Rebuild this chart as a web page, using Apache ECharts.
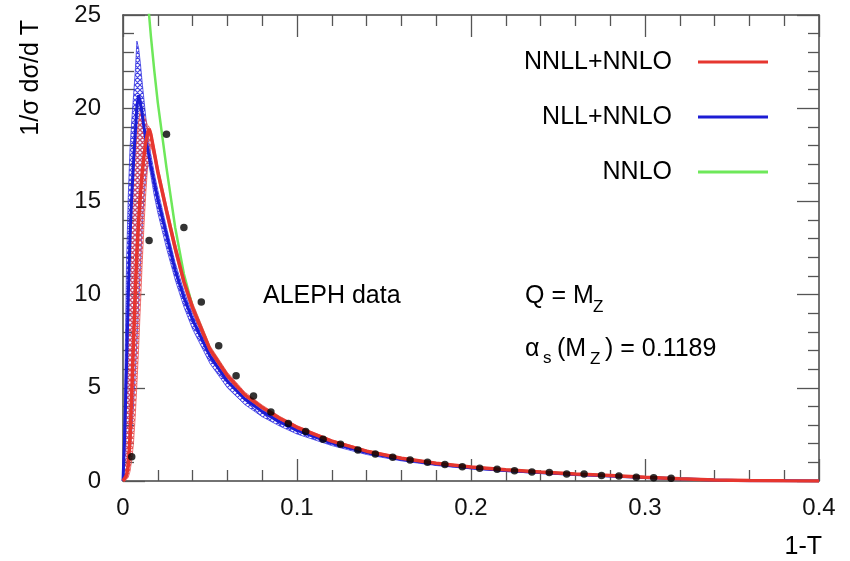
<!DOCTYPE html>
<html><head><meta charset="utf-8">
<script src="https://cdn.jsdelivr.net/npm/echarts@6/dist/echarts.min.js"></script>
<style>html,body{margin:0;padding:0;background:#fff}#c{width:850px;height:561px}</style>
</head><body><div id="c"></div>
<script>
// x grid (1-T) shared by the theory curves
const xGrid = [0, 0.001, 0.002, 0.003, 0.004, 0.005, 0.006, 0.007, 0.008, 0.009, 0.010, 0.011, 0.012, 0.013, 0.014, 0.015, 0.016, 0.018, 0.020, 0.025, 0.030, 0.035, 0.040, 0.050, 0.060, 0.070, 0.080, 0.090, 0.100, 0.120, 0.140, 0.160, 0.180, 0.200, 0.220, 0.240, 0.260, 0.280, 0.300, 0.320, 0.340, 0.360, 0.380, 0.400];

// NNLL+NNLO central, upper, lower
const nnllCentral = [0, 0.1, 0.3, 0.8, 2.3, 4.6, 7.4, 10.0, 12.3, 14.0, 15.4, 16.5, 17.4, 18.1, 18.6, 18.9, 18.6, 17.6, 16.6, 14.5, 12.5, 10.7, 9.3, 7.05, 5.65, 4.62, 3.95, 3.37, 2.88, 2.14, 1.60, 1.22, 0.95, 0.75, 0.60, 0.48, 0.38, 0.29, 0.20, 0.12, 0.06, 0.03, 0.01, 0];
const nnllUpper = [0, 1.5, 4.5, 9.0, 12.8, 15.0, 16.5, 17.6, 18.5, 19.3, 19.9, 19.8, 19.6, 19.4, 19.1, 19.0, 18.8, 17.9, 16.9, 14.8, 12.8, 10.95, 9.55, 7.25, 5.82, 4.77, 4.07, 3.47, 2.97, 2.21, 1.66, 1.27, 0.99, 0.79, 0.63, 0.51, 0.40, 0.31, 0.22, 0.14, 0.08, 0.04, 0.02, 0.01];
const nnllLower = [0, 0, 0.1, 0.2, 0.5, 1.1, 2.0, 3.4, 5.2, 7.2, 9.4, 11.6, 13.6, 15.3, 16.7, 17.6, 18.0, 17.3, 16.3, 14.2, 12.2, 10.45, 9.05, 6.85, 5.48, 4.47, 3.83, 3.27, 2.79, 2.07, 1.54, 1.17, 0.91, 0.71, 0.57, 0.45, 0.36, 0.27, 0.18, 0.10, 0.04, 0.02, 0, 0];

// NLL+NNLO central, upper, lower
const nllCentral = [0, 2.5, 6.0, 9.8, 13.0, 15.2, 17.0, 18.6, 20.1, 20.7, 20.3, 19.7, 19.0, 18.4, 17.9, 17.4, 16.9, 16.0, 15.1, 13.2, 11.3, 9.85, 8.65, 6.7, 5.35, 4.4, 3.72, 3.17, 2.72, 2.04, 1.53, 1.17, 0.91, 0.71, 0.56, 0.45, 0.35, 0.27, 0.19, 0.12, 0.06, 0.02, 0.01, 0];
const nllUpper = [0, 5.0, 11.5, 15.2, 17.8, 19.3, 20.6, 21.9, 23.6, 23.2, 22.4, 21.4, 20.5, 19.6, 18.8, 18.1, 17.5, 16.5, 15.6, 13.6, 11.7, 10.2, 8.95, 6.95, 5.55, 4.57, 3.86, 3.28, 2.82, 2.11, 1.59, 1.21, 0.94, 0.74, 0.58, 0.47, 0.37, 0.28, 0.20, 0.13, 0.07, 0.03, 0.01, 0];
const nllLower = [0, 0.1, 0.3, 0.8, 1.5, 2.6, 4.0, 5.7, 7.5, 9.5, 11.5, 13.5, 15.2, 16.3, 16.9, 16.9, 16.4, 15.3, 14.4, 12.5, 10.8, 9.35, 8.15, 6.3, 5.0, 4.1, 3.45, 2.95, 2.52, 1.9, 1.42, 1.08, 0.83, 0.65, 0.51, 0.40, 0.31, 0.23, 0.15, 0.09, 0.04, 0.01, 0, 0];

// NNLO fixed order (null where it is far above the frame)
const nnlo = [null, null, null, null, null, null, null, null, null, null, null, null, null, 28.5, 26.6, 25.0, 23.9, 22.0, 20.3, 16.8, 13.6, 11.1, 9.35, 7.08, 5.66, 4.62, 3.95, 3.37, 2.88, 2.14, 1.60, 1.22, 0.95, 0.75, 0.60, 0.48, 0.38, 0.29, 0.20, 0.12, 0.06, 0.03, 0.01, 0];

// ALEPH data
const alephX = [0.005, 0.015, 0.025, 0.035, 0.045, 0.055, 0.065, 0.075, 0.085, 0.095, 0.105, 0.115, 0.125, 0.135, 0.145, 0.155, 0.165, 0.175, 0.185, 0.195, 0.205, 0.215, 0.225, 0.235, 0.245, 0.255, 0.265, 0.275, 0.285, 0.295, 0.305, 0.315];
const alephY = [1.3, 12.9, 18.6, 13.6, 9.6, 7.26, 5.65, 4.56, 3.70, 3.09, 2.65, 2.24, 1.97, 1.66, 1.45, 1.27, 1.13, 1.00, 0.89, 0.77, 0.68, 0.63, 0.55, 0.48, 0.45, 0.38, 0.38, 0.29, 0.27, 0.20, 0.18, 0.15];

const legendNames = ['NNLL+NNLO', 'NLL+NNLO', 'NNLO'];
const xTicks = {min: 0, max: 0.4, interval: 0.1};
const yTicks = {min: 0, max: 25, interval: 5};

const RED = '#e6362f', BLUE = '#1c1cd4', GREEN = '#6ee85a';
const FONT = 'Liberation Sans';

function zip(xs, ys) {
  const out = [];
  for (let i = 0; i < xs.length; i++) if (ys[i] != null) out.push([xs[i], ys[i]]);
  return out;
}
function hatch(color) {
  const s = 5;
  const c = document.createElement('canvas');
  c.width = s; c.height = s;
  const ctx = c.getContext('2d');
  ctx.strokeStyle = color; ctx.lineWidth = 1.1;
  ctx.beginPath();
  for (let k = -1; k <= 1; k++) {
    ctx.moveTo(k * s - 1, -1); ctx.lineTo(k * s + s + 1, s + 1);
    ctx.moveTo(k * s + s + 1, -1); ctx.lineTo(k * s - 1, s + 1);
  }
  ctx.stroke();
  return c;
}
function band(name, upper, lower, color, z) {
  const pat = hatch(color);
  return {
    type: 'custom', name: name, silent: true, z: z,
    data: [[xGrid[0], upper[0]]],
    encode: {x: 0, y: 1},
    renderItem: function (params, api) {
      const pts = [];
      for (let i = 0; i < xGrid.length; i++) pts.push(api.coord([xGrid[i], upper[i]]));
      for (let i = xGrid.length - 1; i >= 0; i--) pts.push(api.coord([xGrid[i], lower[i]]));
      return {type: 'polygon', shape: {points: pts},
        style: {fill: {image: pat, repeat: 'repeat'}, stroke: color, lineWidth: 0.8, opacity: 0.9}};
    }
  };
}

const axisLineStyle = {color: '#444', width: 1.5};
const tickStyle = {color: '#555', width: 1.3};
function xAxisDef(pos, labels) {
  return Object.assign({
    type: 'value', position: pos, gridIndex: 0,
    axisLine: {show: true, onZero: false, lineStyle: axisLineStyle},
    axisTick: {show: true, inside: true, length: 22, lineStyle: tickStyle},
    minorTick: {show: true, splitNumber: 5, length: 11, lineStyle: tickStyle},
    splitLine: {show: false},
    axisLabel: {show: labels, fontSize: 24, fontFamily: FONT, color: '#111', margin: 15}
  }, xTicks);
}
function yAxisDef(pos, labels) {
  return Object.assign({
    type: 'value', position: pos, gridIndex: 0,
    axisLine: {show: true, onZero: false, lineStyle: axisLineStyle},
    axisTick: {show: true, inside: true, length: 22, lineStyle: tickStyle},
    minorTick: {show: true, splitNumber: 5, length: 11, lineStyle: tickStyle},
    splitLine: {show: false},
    axisLabel: {show: labels, fontSize: 24, fontFamily: FONT, color: '#111', margin: 22}
  }, yTicks);
}
function txt(text, x, y, size, extra) {
  return Object.assign({
    type: 'text', x: x, y: y, silent: true,
    style: {text: text, fontSize: size, fontFamily: FONT, fill: '#000',
      align: 'left', verticalAlign: 'middle', textAlign: 'left', textVerticalAlign: 'middle'}
  }, extra || {});
}

const chart = echarts.init(document.getElementById('c'));
chart.setOption({
  animation: false,
  backgroundColor: '#fff',
  grid: {left: 123, right: 31, top: 15, bottom: 80, outerBoundsMode: 'none', containLabel: false},
  xAxis: [xAxisDef('bottom', true), xAxisDef('top', false)],
  yAxis: [yAxisDef('left', true), yAxisDef('right', false)],
  legend: {
    data: legendNames, orient: 'vertical', right: 82, top: 47, align: 'right', padding: 0,
    icon: 'rect', itemWidth: 70, itemHeight: 3, itemGap: 25, selectedMode: false,
    textStyle: {fontSize: 25, fontFamily: FONT, color: '#000', lineHeight: 30, padding: [0, 21, 0, 0]}
  },
  graphic: [
    txt('1/σ dσ/d T', 31, 20, 25, {rotation: Math.PI / 2,
      style: {text: '1/σ dσ/d T', fontSize: 25, fontFamily: FONT, fill: '#000', align: 'right', verticalAlign: 'middle', textAlign: 'right', textVerticalAlign: 'middle'}}),
    {type: 'text', x: 822, y: 547, silent: true,
      style: {text: '1-T', fontSize: 25, fontFamily: FONT, fill: '#000', align: 'right', verticalAlign: 'middle', textAlign: 'right', textVerticalAlign: 'middle'}},
    txt('ALEPH data', 263, 296, 25),
    txt('Q = M', 525, 296, 25),
    txt('Z', 593, 307, 17),
    txt('α', 525, 349, 25),
    txt('s', 543, 358, 17),
    txt('(M', 557, 349, 25),
    txt('Z', 590, 359, 17),
    txt(') = 0.1189', 605, 349, 25)
  ],
  series: [
    band('NLL band', nllUpper, nllLower, '#2a2ae0', 1),
    band('NNLL band', nnllUpper, nnllLower, '#e84a4a', 2),
    {type: 'line', name: 'NNLO', data: zip(xGrid, nnlo), showSymbol: false, z: 3, color: GREEN,
      lineStyle: {color: GREEN, width: 2.5}, itemStyle: {color: GREEN}},
    {type: 'line', name: 'NLL+NNLO', data: zip(xGrid, nllCentral), showSymbol: false, z: 4, color: BLUE,
      lineStyle: {color: BLUE, width: 3}, itemStyle: {color: BLUE}},
    {type: 'line', name: 'NNLL+NNLO', data: zip(xGrid, nnllCentral), showSymbol: false, z: 5, color: RED,
      lineStyle: {color: RED, width: 3.5}, itemStyle: {color: RED}},
    {type: 'scatter', name: 'ALEPH data', data: zip(alephX, alephY), symbol: 'circle', symbolSize: 7.5, z: 6,
      itemStyle: {color: '#000'}}
  ]
});
</script></body></html>
